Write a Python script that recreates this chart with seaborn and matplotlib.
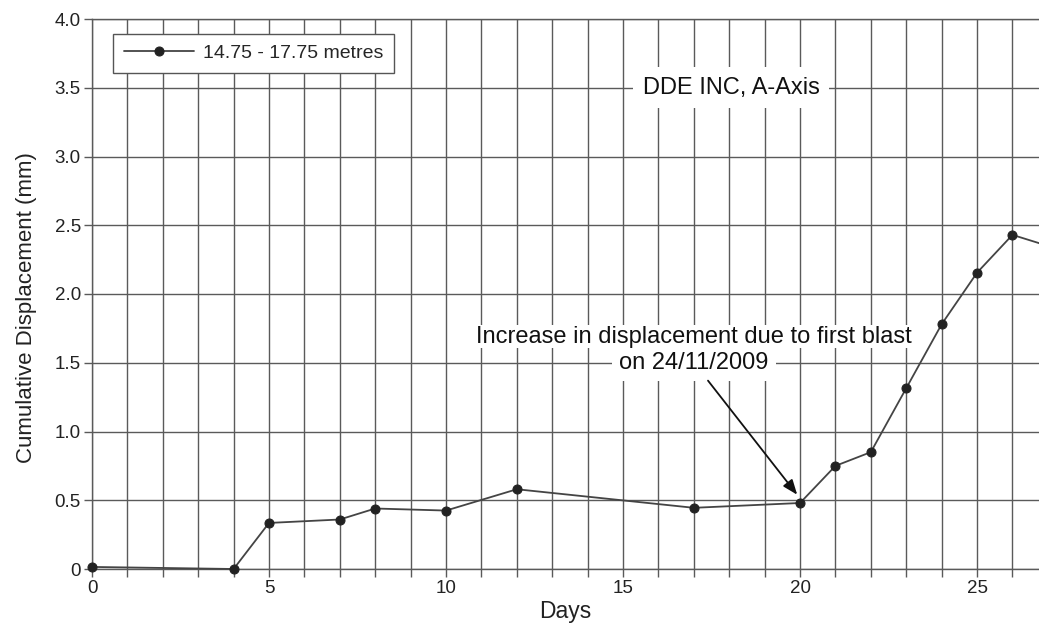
import matplotlib
matplotlib.use("Agg")
import matplotlib.pyplot as plt
import seaborn as sns
import pandas as pd
from matplotlib.ticker import MultipleLocator, FixedLocator

# ---- data ----
days = [0, 4, 5, 7, 8, 10, 12, 17, 20, 21, 22, 23, 24, 25, 26, 27]
displacement = [0.015, 0.0, 0.335, 0.36, 0.44, 0.425, 0.58, 0.445, 0.48,
                0.75, 0.85, 1.315, 1.78, 2.155, 2.43, 2.35]
series_label = "14.75 - 17.75 metres"
x_ticks = [0, 5, 10, 15, 20, 25]
y_ticks = [0, 0.5, 1.0, 1.5, 2.0, 2.5, 3.0, 3.5, 4.0]
y_tick_labels = ["0", "0.5", "1.0", "1.5", "2.0", "2.5", "3.0", "3.5", "4.0"]
title_text = "DDE INC, A-Axis"
note_line1 = "Increase in displacement due to first blast"
note_line2 = "on 24/11/2009"

df = pd.DataFrame({"Days": days, "Disp": displacement})

sns.set_style("ticks")
plt.rcParams["font.family"] = ["Liberation Sans", "DejaVu Sans"]

W, H = 1039, 624
fig = plt.figure(figsize=(W / 100, H / 100), dpi=100)
ax = fig.add_axes([92 / W, 1 - 569 / H, (W - 92) / W, 550 / H])

grid_c = "#5a5a5a"
sns.lineplot(data=df, x="Days", y="Disp", ax=ax, color="#444444", linewidth=1.3,
             marker="o", markersize=6.5, markerfacecolor="#222222",
             markeredgecolor="#222222", label=series_label, clip_on=False,
             zorder=5, sort=False, estimator=None)

ax.set_xlim(0, 26.75)
ax.set_ylim(0, 4.0)
ax.xaxis.set_major_locator(FixedLocator(x_ticks))
ax.xaxis.set_minor_locator(MultipleLocator(1))
ax.set_yticks(y_ticks)
ax.set_yticklabels(y_tick_labels)

ax.grid(True, which="both", axis="x", color=grid_c, linewidth=1.0)
ax.grid(True, which="major", axis="y", color=grid_c, linewidth=1.0)
ax.set_axisbelow(True)

for s in ["left", "top", "bottom"]:
    ax.spines[s].set_color(grid_c)
    ax.spines[s].set_linewidth(1.0)
ax.spines["right"].set_visible(False)

ax.tick_params(axis="both", which="both", direction="out", length=6,
               color=grid_c, width=1.0, labelsize=13.5, labelcolor="#222222", pad=2)

ax.set_xlabel("Days", fontsize=16.5, color="#222222", labelpad=2)
ax.set_ylabel("Cumulative Displacement (mm)", fontsize=16, color="#222222")
ax.yaxis.set_label_coords(-0.058, 0.475)

leg = ax.legend(loc="upper left", bbox_to_anchor=(0.022, 0.973), borderaxespad=0,
                fontsize=14, frameon=True, fancybox=False, handlelength=3.6,
                handletextpad=0.5, borderpad=0.55)
leg.get_frame().set_edgecolor("#555555")
leg.get_frame().set_linewidth(1.0)
leg.get_frame().set_alpha(1)

ax.text(18.06, 3.5, title_text, fontsize=17, ha="center", va="center",
        color="#111111", zorder=6,
        bbox=dict(boxstyle="square,pad=0.4", fc="white", ec="none"))

ax.text(17.0, 1.50, note_line2, fontsize=17, ha="center", va="center",
        color="#111111", zorder=6,
        bbox=dict(boxstyle="square,pad=0.3", fc="white", ec="none"))
ax.text(17.0, 1.69, note_line1, fontsize=17, ha="center", va="center",
        color="#111111", zorder=8,
        bbox=dict(boxstyle="square,pad=0.02", fc="white", ec="none"))

ax.annotate("", xy=(19.92, 0.54), xytext=(17.4, 1.37),
            arrowprops=dict(arrowstyle="-|>,head_length=0.9,head_width=0.35",
                            color="#111111", lw=1.3, shrinkA=0, shrinkB=0),
            zorder=7)

fig.savefig("out.png", dpi=100, facecolor="white")
